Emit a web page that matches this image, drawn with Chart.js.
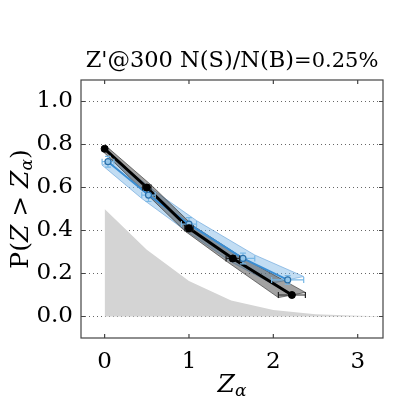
<!DOCTYPE html>
<html>
<head>
<meta charset="utf-8">
<script src="https://cdn.jsdelivr.net/npm/chart.js@4.4.0/dist/chart.umd.min.js"></script>
<style>
  html, body { margin: 0; padding: 0; background: #fff; }
  #wrap { width: 399px; height: 399px; }
</style>
</head>
<body>
<div id="wrap"><canvas id="chart"></canvas></div>
<script>
const blackX = [0.0, 0.5, 1.0, 1.52, 2.22];
const blackY = [0.78, 0.60, 0.41, 0.27, 0.10];
const blackXErr = [0.02, 0.05, 0.05, 0.08, 0.16];
const blackYErr = [0.01, 0.012, 0.015, 0.012, 0.008];
const blackBand = [0.012, 0.012, 0.012, 0.012, 0.012];

const blueX = [0.04, 0.52, 1.0, 1.64, 2.17];
const blueY = [0.72, 0.565, 0.43, 0.27, 0.17];
const blueXErr = [0.07, 0.08, 0.09, 0.14, 0.19];
const blueYErr = [0.025, 0.03, 0.03, 0.025, 0.02];
const blueBand = [0.016, 0.016, 0.016, 0.016, 0.016];

// background distribution
const distX = [0.0, 0.5, 1.0, 1.5, 2.0, 2.5, 3.0, 3.3];
const distY = [0.50, 0.31, 0.165, 0.075, 0.03, 0.01, 0.003, 0.001];

const xTicks = [0, 1, 2, 3];
const yTicks = [0.0, 0.2, 0.4, 0.6, 0.8, 1.0];

const SERIF = "'DejaVu Serif', serif";

function pts(xs, ys) {
    return xs.map((x, i) => ({x: x, y: ys[i]}));
}

// closed polygon: upper edge shifted right/up, lower edge left/down
function bandShape(xs, ys, xe, h) {
    const up = xs.map((x, i) => ({x: x + xe[i], y: ys[i] + h[i]}));
    const lo = xs.map((x, i) => ({x: x - xe[i], y: ys[i] - h[i]})).reverse();
    const all = up.concat(lo);
    all.push(up[0]);
    return all;
}

const errorBars = {
    id: 'errorBars',
    beforeDatasetDraw(chart, args) {
        const ds = chart.data.datasets[args.index];
        if (!ds.err) return;
        const xs = chart.scales.x, ys = chart.scales.y, ctx = chart.ctx;
        const e = ds.err;
        ctx.save();
        ctx.strokeStyle = e.color;
        ctx.lineWidth = 1.2;
        const cap = 3;
        e.x.forEach((xv, i) => {
            const px = xs.getPixelForValue(xv), py = ys.getPixelForValue(e.y[i]);
            const x0 = xs.getPixelForValue(xv - e.xe[i]), x1 = xs.getPixelForValue(xv + e.xe[i]);
            const y0 = ys.getPixelForValue(e.y[i] - e.ye[i]), y1 = ys.getPixelForValue(e.y[i] + e.ye[i]);
            ctx.beginPath();
            ctx.moveTo(x0, py); ctx.lineTo(x1, py);
            ctx.moveTo(x0, py - cap); ctx.lineTo(x0, py + cap);
            ctx.moveTo(x1, py - cap); ctx.lineTo(x1, py + cap);
            ctx.moveTo(px, y0); ctx.lineTo(px, y1);
            ctx.moveTo(px - cap, y0); ctx.lineTo(px + cap, y0);
            ctx.moveTo(px - cap, y1); ctx.lineTo(px + cap, y1);
            ctx.stroke();
        });
        ctx.restore();
    }
};

function drawMath(ctx, parts, cx, cy) {
    let w = 0;
    parts.forEach(p => {
        ctx.font = (p.it ? 'italic ' : '') + p.size + 'px ' + SERIF;
        p.w = ctx.measureText(p.t).width;
        w += p.w;
    });
    let x = cx - w / 2;
    parts.forEach(p => {
        ctx.font = (p.it ? 'italic ' : '') + p.size + 'px ' + SERIF;
        ctx.fillText(p.t, x, cy + (p.dy || 0));
        x += p.w;
    });
}

const frame = {
    id: 'frame',
    afterDraw(chart) {
        const ctx = chart.ctx, a = chart.chartArea;
        const xs = chart.scales.x, ys = chart.scales.y;
        ctx.save();
        ctx.strokeStyle = '#444';
        ctx.lineWidth = 1.2;
        ctx.strokeRect(a.left, a.top, a.right - a.left, a.bottom - a.top);
        ctx.beginPath();
        xTicks.forEach(v => {
            const px = xs.getPixelForValue(v);
            ctx.moveTo(px, a.bottom); ctx.lineTo(px, a.bottom - 4);
            ctx.moveTo(px, a.top); ctx.lineTo(px, a.top + 4);
        });
        yTicks.forEach(v => {
            const py = ys.getPixelForValue(v);
            ctx.moveTo(a.left, py); ctx.lineTo(a.left + 4, py);
            ctx.moveTo(a.right, py); ctx.lineTo(a.right - 4, py);
        });
        ctx.stroke();

        ctx.fillStyle = '#000';
        ctx.textBaseline = 'alphabetic';
        // title
        drawMath(ctx, [
            {t: "Z'@300 N(S)/N(B)", size: 22.5},
            {t: '=0.25%', size: 21}
        ], (a.left + a.right) / 2, 67);
        // x label
        drawMath(ctx, [
            {t: 'Z', size: 25, it: true},
            {t: 'α', size: 17, it: true, dy: 4}
        ], (a.left + a.right) / 2, 392);
        // y label
        ctx.translate(28, (a.top + a.bottom) / 2);
        ctx.rotate(-Math.PI / 2);
        drawMath(ctx, [
            {t: 'P(', size: 25},
            {t: 'Z', size: 25, it: true},
            {t: ' > ', size: 25},
            {t: 'Z', size: 25, it: true},
            {t: 'α', size: 17, it: true, dy: 4},
            {t: ')', size: 25}
        ], 0, 0);
        ctx.restore();
    }
};

const ctx = document.getElementById('chart').getContext('2d');
new Chart(ctx, {
    type: 'scatter',
    data: {
        datasets: [
            {
                data: pts(distX, distY),
                showLine: true,
                fill: 'origin',
                backgroundColor: '#d4d4d4',
                borderWidth: 0,
                pointRadius: 0,
                order: 10
            },
            {
                data: bandShape(blueX, blueY, blueXErr, blueBand),
                showLine: true,
                fill: 'shape',
                backgroundColor: 'rgba(120, 180, 228, 0.45)',
                borderColor: 'rgba(90, 155, 215, 0.55)',
                borderWidth: 1,
                pointRadius: 0,
                order: 9
            },
            {
                data: bandShape(blackX, blackY, blackXErr, blackBand),
                showLine: true,
                fill: 'shape',
                backgroundColor: 'rgba(70, 70, 70, 0.5)',
                borderColor: 'rgba(40, 40, 40, 0.6)',
                borderWidth: 1,
                pointRadius: 0,
                order: 8
            },
            {
                data: pts(blueX, blueY),
                showLine: true,
                borderColor: '#3a8ed4',
                borderWidth: 2,
                pointRadius: 0,
                order: 7
            },
            {
                data: pts(blackX, blackY),
                showLine: true,
                borderColor: '#000',
                borderWidth: 3,
                pointRadius: 0,
                order: 6
            },
            {
                data: pts(blueX, blueY),
                showLine: false,
                pointRadius: 3,
                pointBorderWidth: 1.2,
                pointBackgroundColor: 'rgba(150, 200, 235, 0.9)',
                pointBorderColor: '#2a6fa8',
                err: {x: blueX, y: blueY, xe: blueXErr, ye: blueYErr, color: '#78b8e6'},
                order: 5
            },
            {
                data: pts(blackX, blackY),
                showLine: false,
                pointRadius: 3.5,
                pointBackgroundColor: '#000',
                pointBorderColor: '#000',
                err: {x: blackX, y: blackY, xe: blackXErr, ye: blackYErr, color: '#222'},
                order: 4
            }
        ]
    },
    options: {
        responsive: true,
        maintainAspectRatio: false,
        animation: false,
        layout: { padding: { top: 80, right: 16, left: 0, bottom: 0 } },
        plugins: {
            legend: { display: false },
            tooltip: { enabled: false },
            title: { display: false }
        },
        scales: {
            x: {
                type: 'linear',
                min: -0.28,
                max: 3.3,
                afterBuildTicks: (s) => { s.ticks = xTicks.map(v => ({value: v})); },
                afterFit: (s) => { s.height = 61; },
                grid: { display: false },
                border: { display: false },
                ticks: {
                    padding: 2,
                    color: '#000',
                    font: { family: SERIF, size: 23 },
                    callback: (v) => String(v)
                }
            },
            y: {
                type: 'linear',
                min: -0.1,
                max: 1.1,
                afterBuildTicks: (s) => { s.ticks = yTicks.map(v => ({value: v})); },
                afterFit: (s) => { s.width = 81; },
                grid: { color: '#666', lineWidth: 1, drawTicks: false },
                border: { display: false, dash: [1, 3] },
                ticks: {
                    padding: 8,
                    color: '#000',
                    font: { family: SERIF, size: 23 },
                    callback: (v) => v.toFixed(1)
                }
            }
        }
    },
    plugins: [errorBars, frame]
});
</script>
</body>
</html>
